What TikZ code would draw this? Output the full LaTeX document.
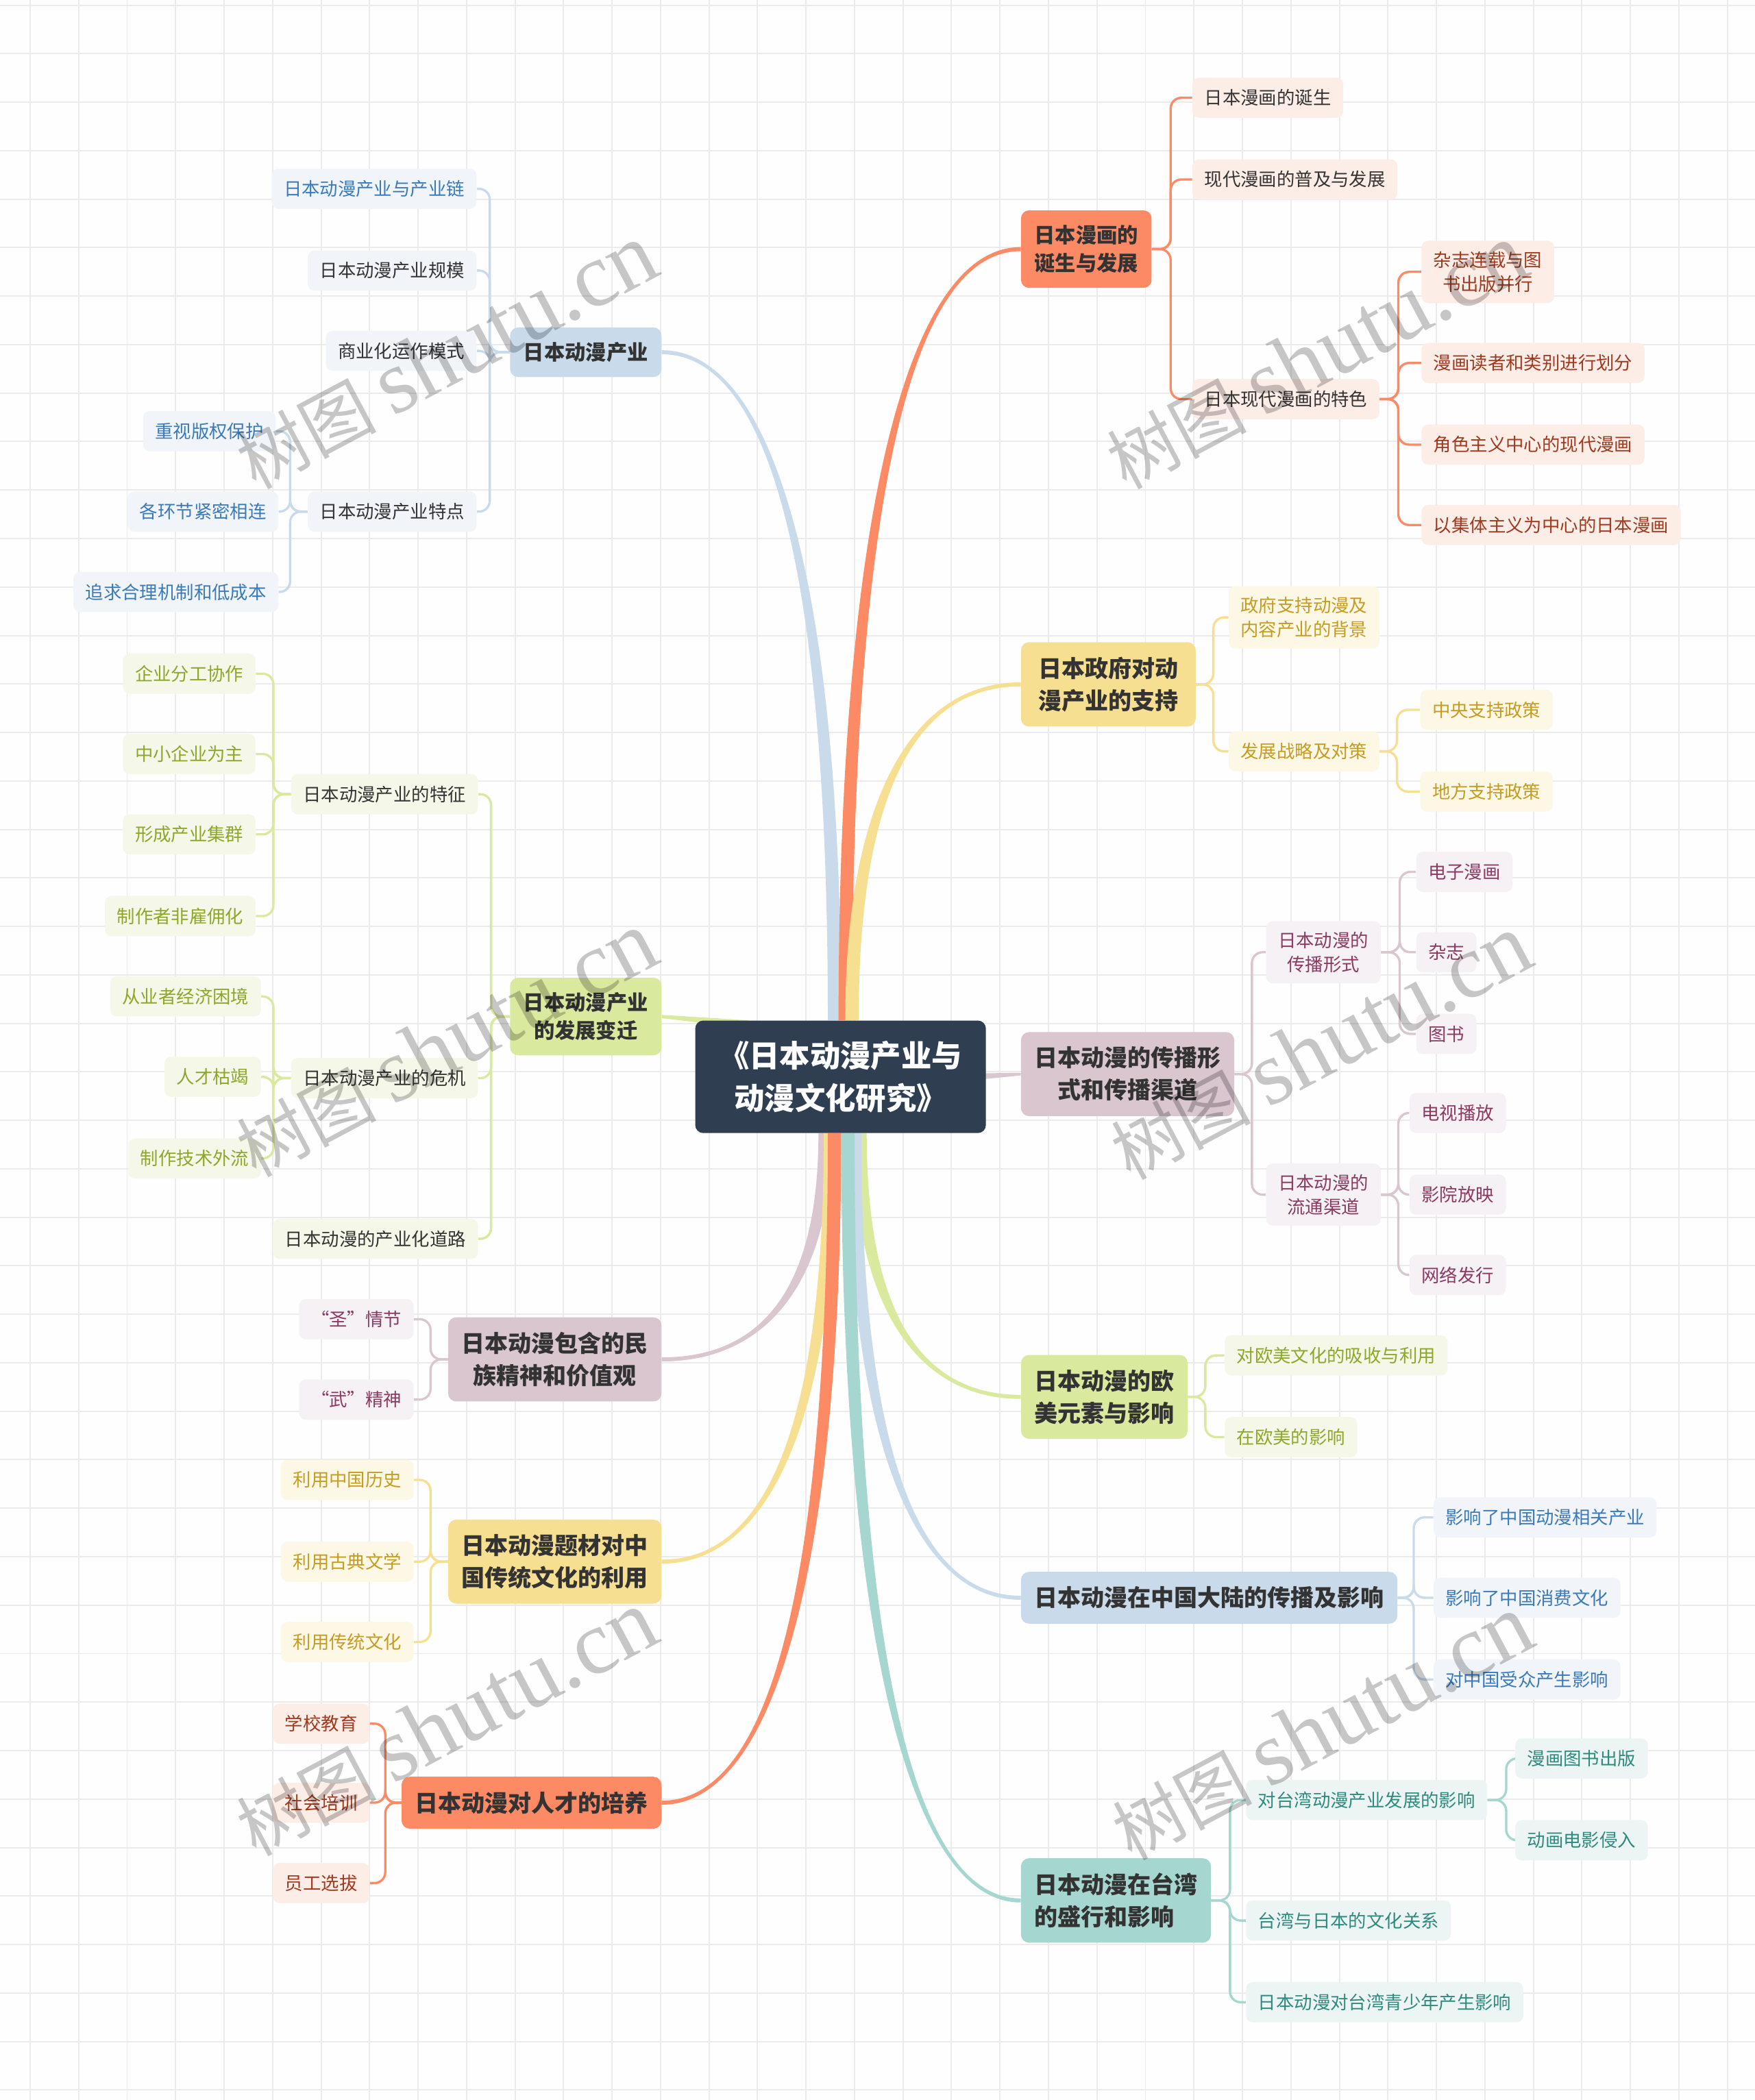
\documentclass[tikz,border=0pt]{standalone}
\usepackage{fontspec}
\setmainfont{Noto Sans CJK SC}
\newfontfamily\wmlatin{Liberation Serif}
\usetikzlibrary{calc}

\definecolor{paperbg}{HTML}{FEFEFE}
\definecolor{gridln}{HTML}{EBEBEB}
\definecolor{rootfill}{HTML}{2F3E51}
\definecolor{ink}{HTML}{333333}
\definecolor{bluemain}{HTML}{C9DAEB}
\definecolor{bluesoft}{HTML}{F1F5FA}
\definecolor{bluetext}{HTML}{3A7AB8}
\definecolor{orgmain}{HTML}{FC8A65}
\definecolor{orgsoft}{HTML}{FDEDE7}
\definecolor{orgtext}{HTML}{9E3A1F}
\definecolor{yelmain}{HTML}{F7DF91}
\definecolor{yelsoft}{HTML}{FDF8E6}
\definecolor{yeltext}{HTML}{C49C22}
\definecolor{grnmain}{HTML}{D9E99E}
\definecolor{grnsoft}{HTML}{F5F8E9}
\definecolor{grntext}{HTML}{8CA72A}
\definecolor{mvmain}{HTML}{D9C6CF}
\definecolor{mvsoft}{HTML}{F6F1F4}
\definecolor{mvtext}{HTML}{8A3A63}
\definecolor{tlmain}{HTML}{A6D6D0}
\definecolor{tlsoft}{HTML}{ECF5F4}
\definecolor{tltext}{HTML}{2E8A7E}

\pgfdeclarelayer{paper}
\pgfdeclarelayer{wires}
\pgfsetlayers{paper,wires,main}

\newcommand{\limb}[5]{%
  \fill[#1] let \p1=#2, \p2=#3 in
    ({\x1-#4pt},\y1) .. controls ({\x1-#4pt},{\y1+0.65*(\y2-\y1)}) and ({\x2+0.65*(\x1-\x2)},{\y2+(#5pt)}) .. (\x2,{\y2+(#5pt)})
    -- (\x2,{\y2-(#5pt)}) .. controls ({\x2+0.65*(\x1-\x2)},{\y2-(#5pt)}) and ({\x1+#4pt},{\y1+0.65*(\y2-\y1)}) .. ({\x1+#4pt},\y1) -- cycle;}
\newcommand{\stub}[5]{%
  \fill[#1] let \p1=#2, \p2=#3 in
    (\x1,{\y1+#4pt}) -- (\x2,{\y2+#5pt}) -- (\x2,{\y2-#5pt}) -- (\x1,{\y1-#4pt}) -- cycle;}
\newcommand{\wmtext}{{\fontsize{52}{52}\selectfont 树图}\hspace{12pt}{\wmlatin\fontsize{68}{68}\selectfont shutu.cn}}

\begin{document}
\begin{tikzpicture}[
    x=1pt, y=-1pt,
    rootbox/.style={fill=rootfill, text=white, rounded corners=6pt, minimum width=217pt, minimum height=84pt, align=center, font=\bfseries\fontsize{22.7}{32}\selectfont},
    mainbox/.style={rounded corners=6pt, inner xsep=10pt, inner ysep=11pt, minimum height=36pt, align=center, text=ink, font=\bfseries\fontsize{17.4}{24}\selectfont},
    smallmain/.style={font=\bfseries\fontsize{15.5}{21}\selectfont},
    subbox/.style={rounded corners=5pt, inner xsep=9pt, inner ysep=8pt, minimum height=30pt, align=center, text=ink, font=\fontsize{13.5}{18}\selectfont},
    link/.style={line width=1.7pt, rounded corners=8pt},
    stamp/.style={rotate=28, text=black, text opacity=0.22, inner sep=0pt}
]
    \useasboundingbox (0,0) rectangle (1310,1568);

    \begin{pgfonlayer}{paper}
        \fill[paperbg] (0,0) rectangle (1310,1568);
        \foreach \k in {0,...,35} \draw[gridln, line width=1pt] ({22.5+36.2*\k},0) -- ++(0,1568);
        \foreach \k in {0,...,43} \draw[gridln, line width=1pt] (0,{3.9+36.2*\k}) -- ++(1310,0);
    \end{pgfonlayer}

    \node[rootbox] (root) at (627.5,804) {《日本动漫产业与\\动漫文化研究》};

    \node[mainbox, smallmain, fill=bluemain, anchor=east] (ind) at (494,263) {日本动漫产业};
    \node[mainbox, smallmain, fill=grnmain, anchor=east] (dev) at (494,759) {日本动漫产业\\的发展变迁};
    \node[mainbox, fill=mvmain, anchor=east] (spirit) at (494,1015) {日本动漫包含的民\\族精神和价值观};
    \node[mainbox, fill=yelmain, anchor=east] (theme) at (494,1166) {日本动漫题材对中\\国传统文化的利用};
    \node[mainbox, fill=orgmain, anchor=east] (talent) at (494,1346) {日本动漫对人才的培养};

    \node[mainbox, smallmain, fill=orgmain, anchor=west] (manga) at (762,186) {日本漫画的\\诞生与发展};
    \node[mainbox, fill=yelmain, anchor=west, inner xsep=13pt] (gov) at (762,511) {日本政府对动\\漫产业的支持};
    \node[mainbox, fill=mvmain, anchor=west] (media) at (762,802) {日本动漫的传播形\\式和传播渠道};
    \node[mainbox, fill=grnmain, anchor=west] (euro) at (762,1043) {日本动漫的欧\\美元素与影响};
    \node[mainbox, fill=bluemain, anchor=west] (china) at (762,1193) {日本动漫在中国大陆的传播及影响};
    \node[mainbox, fill=tlmain, anchor=west, align=left] (taiwan) at (762,1419) {日本动漫在台湾\\的盛行和影响};

    \node[subbox, fill=bluesoft, text=bluetext, anchor=east] (ind1) at (356,141) {日本动漫产业与产业链};
    \node[subbox, fill=bluesoft, anchor=east] (ind2) at (356,202) {日本动漫产业规模};
    \node[subbox, fill=bluesoft, anchor=east] (ind3) at (356,262) {商业化运作模式};
    \node[subbox, fill=bluesoft, anchor=east] (ind4) at (356,382) {日本动漫产业特点};
    \node[subbox, fill=bluesoft, text=bluetext, anchor=east] (ind4a) at (206,322) {重视版权保护};
    \node[subbox, fill=bluesoft, text=bluetext, anchor=east] (ind4b) at (208,382) {各环节紧密相连};
    \node[subbox, fill=bluesoft, text=bluetext, anchor=east] (ind4c) at (208,442) {追求合理机制和低成本};

    \node[subbox, fill=grnsoft, anchor=east] (dev1) at (357,593) {日本动漫产业的特征};
    \node[subbox, fill=grnsoft, anchor=east] (dev2) at (357,805) {日本动漫产业的危机};
    \node[subbox, fill=grnsoft, anchor=east] (dev3) at (357,925) {日本动漫的产业化道路};
    \node[subbox, fill=grnsoft, text=grntext, anchor=east] (dev1a) at (191,503) {企业分工协作};
    \node[subbox, fill=grnsoft, text=grntext, anchor=east] (dev1b) at (191,563) {中小企业为主};
    \node[subbox, fill=grnsoft, text=grntext, anchor=east] (dev1c) at (191,623) {形成产业集群};
    \node[subbox, fill=grnsoft, text=grntext, anchor=east] (dev1d) at (191,684) {制作者非雇佣化};
    \node[subbox, fill=grnsoft, text=grntext, anchor=east] (dev2a) at (195,744) {从业者经济困境};
    \node[subbox, fill=grnsoft, text=grntext, anchor=east] (dev2b) at (195,804) {人才枯竭};
    \node[subbox, fill=grnsoft, text=grntext, anchor=east] (dev2c) at (195,865) {制作技术外流};

    \node[subbox, fill=mvsoft, text=mvtext, anchor=east] (spirit1) at (309,985) {“圣”情节};
    \node[subbox, fill=mvsoft, text=mvtext, anchor=east] (spirit2) at (309,1045) {“武”精神};

    \node[subbox, fill=yelsoft, text=yeltext, anchor=east] (theme1) at (309,1105) {利用中国历史};
    \node[subbox, fill=yelsoft, text=yeltext, anchor=east] (theme2) at (309,1166) {利用古典文学};
    \node[subbox, fill=yelsoft, text=yeltext, anchor=east] (theme3) at (309,1226) {利用传统文化};

    \node[subbox, fill=orgsoft, text=orgtext, anchor=east] (talent1) at (276,1287) {学校教育};
    \node[subbox, fill=orgsoft, text=orgtext, anchor=east] (talent2) at (276,1346) {社会培训};
    \node[subbox, fill=orgsoft, text=orgtext, anchor=east] (talent3) at (276,1406) {员工选拔};

    \node[subbox, fill=orgsoft, anchor=west] (manga1) at (890,73) {日本漫画的诞生};
    \node[subbox, fill=orgsoft, anchor=west] (manga2) at (890,134) {现代漫画的普及与发展};
    \node[subbox, fill=orgsoft, anchor=west] (manga3) at (890,298) {日本现代漫画的特色};
    \node[subbox, fill=orgsoft, text=orgtext, anchor=west] (manga3a) at (1061,203) {杂志连载与图\\书出版并行};
    \node[subbox, fill=orgsoft, text=orgtext, anchor=west] (manga3b) at (1061,271) {漫画读者和类别进行划分};
    \node[subbox, fill=orgsoft, text=orgtext, anchor=west] (manga3c) at (1061,332) {角色主义中心的现代漫画};
    \node[subbox, fill=orgsoft, text=orgtext, anchor=west] (manga3d) at (1061,392) {以集体主义为中心的日本漫画};

    \node[subbox, fill=yelsoft, text=yeltext, anchor=west] (gov1) at (917,461) {政府支持动漫及\\内容产业的背景};
    \node[subbox, fill=yelsoft, text=yeltext, anchor=west] (gov2) at (917,561) {发展战略及对策};
    \node[subbox, fill=yelsoft, text=yeltext, anchor=west] (gov2a) at (1060,530) {中央支持政策};
    \node[subbox, fill=yelsoft, text=yeltext, anchor=west] (gov2b) at (1060,591) {地方支持政策};

    \node[subbox, fill=mvsoft, text=mvtext, anchor=west] (media1) at (945,711) {日本动漫的\\传播形式};
    \node[subbox, fill=mvsoft, text=mvtext, anchor=west] (media2) at (945,892) {日本动漫的\\流通渠道};
    \node[subbox, fill=mvsoft, text=mvtext, anchor=west] (media1a) at (1057,651) {电子漫画};
    \node[subbox, fill=mvsoft, text=mvtext, anchor=west] (media1b) at (1057,711) {杂志};
    \node[subbox, fill=mvsoft, text=mvtext, anchor=west] (media1c) at (1057,772) {图书};
    \node[subbox, fill=mvsoft, text=mvtext, anchor=west] (media2a) at (1052,831) {电视播放};
    \node[subbox, fill=mvsoft, text=mvtext, anchor=west] (media2b) at (1052,892) {影院放映};
    \node[subbox, fill=mvsoft, text=mvtext, anchor=west] (media2c) at (1052,952) {网络发行};

    \node[subbox, fill=grnsoft, text=grntext, anchor=west] (euro1) at (914,1012) {对欧美文化的吸收与利用};
    \node[subbox, fill=grnsoft, text=grntext, anchor=west] (euro2) at (914,1073) {在欧美的影响};

    \node[subbox, fill=bluesoft, text=bluetext, anchor=west] (china1) at (1070,1133) {影响了中国动漫相关产业};
    \node[subbox, fill=bluesoft, text=bluetext, anchor=west] (china2) at (1070,1193) {影响了中国消费文化};
    \node[subbox, fill=bluesoft, text=bluetext, anchor=west] (china3) at (1070,1254) {对中国受众产生影响};

    \node[subbox, fill=tlsoft, text=tltext, anchor=west] (taiwan1) at (930,1344) {对台湾动漫产业发展的影响};
    \node[subbox, fill=tlsoft, text=tltext, anchor=west] (taiwan2) at (930,1434) {台湾与日本的文化关系};
    \node[subbox, fill=tlsoft, text=tltext, anchor=west] (taiwan3) at (930,1495) {日本动漫对台湾青少年产生影响};
    \node[subbox, fill=tlsoft, text=tltext, anchor=west] (taiwan1a) at (1131,1313) {漫画图书出版};
    \node[subbox, fill=tlsoft, text=tltext, anchor=west] (taiwan1b) at (1131,1374) {动画电影侵入};

    \begin{pgfonlayer}{wires}
        \limb{bluemain}{($(root.north)+(-4.5,0)$)}{(ind.east)}{5}{-1.5}
        \limb{orgmain}{($(root.north)+(3.5,0)$)}{(manga.west)}{5}{1.5}
        \limb{yelmain}{($(root.north)+(8.5,0)$)}{(gov.west)}{5}{1.5}
        \stub{grnmain}{($(root.north west)+(40,3)$)}{(dev.east)}{3}{1.2}
        \stub{mvmain}{($(root.east)+(-10,0)$)}{(media.west)}{2.5}{1}
        \limb{mvmain}{($(root.south)+(-11.5,0)$)}{(spirit.east)}{5}{1.5}
        \limb{yelmain}{($(root.south)+(-7.5,0)$)}{(theme.east)}{5}{1.5}
        \limb{grnmain}{($(root.south)+(14.5,0)$)}{(euro.west)}{5}{-1.5}
        \limb{bluemain}{($(root.south)+(10.5,0)$)}{(china.west)}{5}{-1.5}
        \limb{orgmain}{($(root.south)+(-4.5,0)$)}{(talent.east)}{5}{1.5}
        \limb{tlmain}{($(root.south)+(5.5,0)$)}{(taiwan.west)}{5}{-1.5}

        \draw[link, bluemain] (ind.west) -- ++(-15,0) |- (ind1.east);
        \draw[link, bluemain] (ind.west) -- ++(-15,0) |- (ind2.east);
        \draw[link, bluemain] (ind.west) -- ++(-15,0) |- (ind3.east);
        \draw[link, bluemain] (ind.west) -- ++(-15,0) |- (ind4.east);
        \draw[link, bluemain] (ind4.west) -- ++(-13,0) |- (ind4a.east);
        \draw[link, bluemain] (ind4.west) -- ++(-13,0) |- (ind4b.east);
        \draw[link, bluemain] (ind4.west) -- ++(-13,0) |- (ind4c.east);

        \draw[link, grnmain] (dev.west) -- ++(-14,0) |- (dev1.east);
        \draw[link, grnmain] (dev.west) -- ++(-14,0) |- (dev2.east);
        \draw[link, grnmain] (dev.west) -- ++(-14,0) |- (dev3.east);
        \draw[link, grnmain] (dev1.west) -- ++(-13,0) |- (dev1a.east);
        \draw[link, grnmain] (dev1.west) -- ++(-13,0) |- (dev1b.east);
        \draw[link, grnmain] (dev1.west) -- ++(-13,0) |- (dev1c.east);
        \draw[link, grnmain] (dev1.west) -- ++(-13,0) |- (dev1d.east);
        \draw[link, grnmain] (dev2.west) -- ++(-13,0) |- (dev2a.east);
        \draw[link, grnmain] (dev2.west) -- ++(-13,0) |- (dev2b.east);
        \draw[link, grnmain] (dev2.west) -- ++(-13,0) |- (dev2c.east);

        \draw[link, mvmain] (spirit.west) -- ++(-13,0) |- (spirit1.east);
        \draw[link, mvmain] (spirit.west) -- ++(-13,0) |- (spirit2.east);
        \draw[link, yelmain] (theme.west) -- ++(-13,0) |- (theme1.east);
        \draw[link, yelmain] (theme.west) -- ++(-13,0) |- (theme2.east);
        \draw[link, yelmain] (theme.west) -- ++(-13,0) |- (theme3.east);
        \draw[link, orgmain] (talent.west) -- ++(-12,0) |- (talent1.east);
        \draw[link, orgmain] (talent.west) -- ++(-12,0) |- (talent2.east);
        \draw[link, orgmain] (talent.west) -- ++(-12,0) |- (talent3.east);

        \draw[link, orgmain] (manga.east) -- ++(14,0) |- (manga1.west);
        \draw[link, orgmain] (manga.east) -- ++(14,0) |- (manga2.west);
        \draw[link, orgmain] (manga.east) -- ++(14,0) |- (manga3.west);
        \draw[link, orgmain] (manga3.east) -- ++(14,0) |- (manga3a.west);
        \draw[link, orgmain] (manga3.east) -- ++(14,0) |- (manga3b.west);
        \draw[link, orgmain] (manga3.east) -- ++(14,0) |- (manga3c.west);
        \draw[link, orgmain] (manga3.east) -- ++(14,0) |- (manga3d.west);

        \draw[link, yelmain] (gov.east) -- ++(13,0) |- (gov1.west);
        \draw[link, yelmain] (gov.east) -- ++(13,0) |- (gov2.west);
        \draw[link, yelmain] (gov2.east) -- ++(13,0) |- (gov2a.west);
        \draw[link, yelmain] (gov2.east) -- ++(13,0) |- (gov2b.west);

        \draw[link, mvmain] (media.east) -- ++(13,0) |- (media1.west);
        \draw[link, mvmain] (media.east) -- ++(13,0) |- (media2.west);
        \draw[link, mvmain] (media1.east) -- ++(14,0) |- (media1a.west);
        \draw[link, mvmain] (media1.east) -- ++(14,0) |- (media1b.west);
        \draw[link, mvmain] (media1.east) -- ++(14,0) |- (media1c.west);
        \draw[link, mvmain] (media2.east) -- ++(13,0) |- (media2a.west);
        \draw[link, mvmain] (media2.east) -- ++(13,0) |- (media2b.west);
        \draw[link, mvmain] (media2.east) -- ++(13,0) |- (media2c.west);

        \draw[link, grnmain] (euro.east) -- ++(13,0) |- (euro1.west);
        \draw[link, grnmain] (euro.east) -- ++(13,0) |- (euro2.west);
        \draw[link, bluemain] (china.east) -- ++(12,0) |- (china1.west);
        \draw[link, bluemain] (china.east) -- ++(12,0) |- (china2.west);
        \draw[link, bluemain] (china.east) -- ++(12,0) |- (china3.west);

        \draw[link, tlmain] (taiwan.east) -- ++(14,0) |- (taiwan1.west);
        \draw[link, tlmain] (taiwan.east) -- ++(14,0) |- (taiwan2.west);
        \draw[link, tlmain] (taiwan.east) -- ++(14,0) |- (taiwan3.west);
        \draw[link, tlmain] (taiwan1.east) -- ++(14,0) |- (taiwan1a.west);
        \draw[link, tlmain] (taiwan1.east) -- ++(14,0) |- (taiwan1b.west);
    \end{pgfonlayer}

    \node[stamp] (wm1) at (333,266) {\wmtext};
    \node[stamp] (wm2) at (983,266) {\wmtext};
    \node[stamp] (wm3) at (333,780) {\wmtext};
    \node[stamp] (wm4) at (986,782) {\wmtext};
    \node[stamp] (wm5) at (333,1287) {\wmtext};
    \node[stamp] (wm6) at (987,1290) {\wmtext};
\end{tikzpicture}
\end{document}
